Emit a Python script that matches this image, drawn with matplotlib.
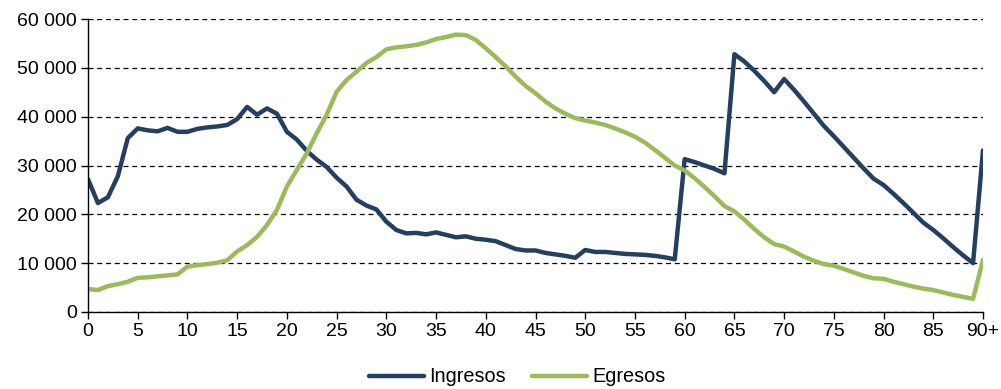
import matplotlib
matplotlib.use("Agg")
import matplotlib.pyplot as plt
from matplotlib.ticker import FuncFormatter

ages = list(range(0, 91))
ingresos = [27200, 22300, 23500, 27800, 35600, 37600, 37200, 37000, 37700, 36900,
            36900, 37500, 37800, 38000, 38300, 39500, 42000, 40400, 41700, 40600,
            36900, 35300, 33000, 31200, 29700, 27500, 25700, 23000, 21800, 21000,
            18500, 16800, 16100, 16200, 15900, 16300, 15800, 15300, 15500, 15000,
            14800, 14500, 13700, 12900, 12600, 12600, 12100, 11800, 11500, 11100,
            12700, 12300, 12300, 12100, 11900, 11800, 11700, 11500, 11200, 10800,
            31300, 30700, 30000, 29300, 28400, 52800, 51300, 49400, 47300, 45000,
            47700, 45500, 43100, 40600, 38100, 36000, 33800, 31600, 29400, 27300,
            26000, 24200, 22300, 20300, 18300, 16800, 15100, 13300, 11600, 10000,
            33100]
egresos = [4700, 4500, 5300, 5700, 6200, 7000, 7100, 7300, 7500, 7700,
           9300, 9600, 9800, 10100, 10600, 12400, 13700, 15400, 17800, 20900,
           25700, 29100, 32500, 36600, 40400, 45100, 47500, 49200, 51000, 52200,
           53800, 54200, 54400, 54700, 55200, 55900, 56300, 56800, 56700, 55700,
           54000, 52200, 50300, 48200, 46300, 44800, 43100, 41700, 40600, 39700,
           39200, 38800, 38300, 37600, 36800, 35900, 34700, 33200, 31600, 30000,
           29000, 27400, 25600, 23700, 21700, 20600, 18900, 17000, 15300, 13900,
           13400, 12400, 11300, 10500, 9800, 9500, 8800, 8100, 7400, 6900,
           6800, 6200, 5700, 5200, 4800, 4500, 4000, 3500, 3100, 2700,
           10700]
x_ticks = list(range(0, 91, 5))
x_labels = [str(v) for v in range(0, 90, 5)] + ["90+"]
y_ticks = list(range(0, 60001, 10000))

plt.rcParams['font.family'] = ['Liberation Sans', 'DejaVu Sans']

fig = plt.figure(figsize=(10.01, 3.89), dpi=100)
ax = fig.add_axes([88/1001, 1-312/389, (983-88)/1001, (312-19)/389])

ax.plot(ages, ingresos, color='#243F60', lw=3.2, label='Ingresos', solid_joinstyle='round', solid_capstyle='round')
ax.plot(ages, egresos, color='#9BBB59', lw=3.2, label='Egresos', solid_joinstyle='round', solid_capstyle='round')

ax.set_xlim(0, 90)
ax.set_ylim(0, 60000)
ax.set_xticks(x_ticks)
ax.set_xticklabels(x_labels)
ax.set_yticks(y_ticks)
ax.yaxis.set_major_formatter(FuncFormatter(lambda v, p: f"{int(v):,}".replace(",", " ")))
ax.grid(axis='y', color='black', linestyle=(0, (4, 3)), lw=0.9)
ax.set_axisbelow(True)
for s in ['top', 'right']:
    ax.spines[s].set_visible(False)
for s in ['left', 'bottom']:
    ax.spines[s].set_color('black')
    ax.spines[s].set_linewidth(1.0)
ax.tick_params(axis='both', direction='out', length=5, width=1, color='black', labelsize=14, pad=3)
ax.margins(0)

fig.legend(loc='center', bbox_to_anchor=(517/1001, 1-377/389), ncol=2, frameon=False,
           fontsize=14.3, handlelength=2.8, columnspacing=1.3, handletextpad=0.25)

fig.savefig('out.png', dpi=100)
